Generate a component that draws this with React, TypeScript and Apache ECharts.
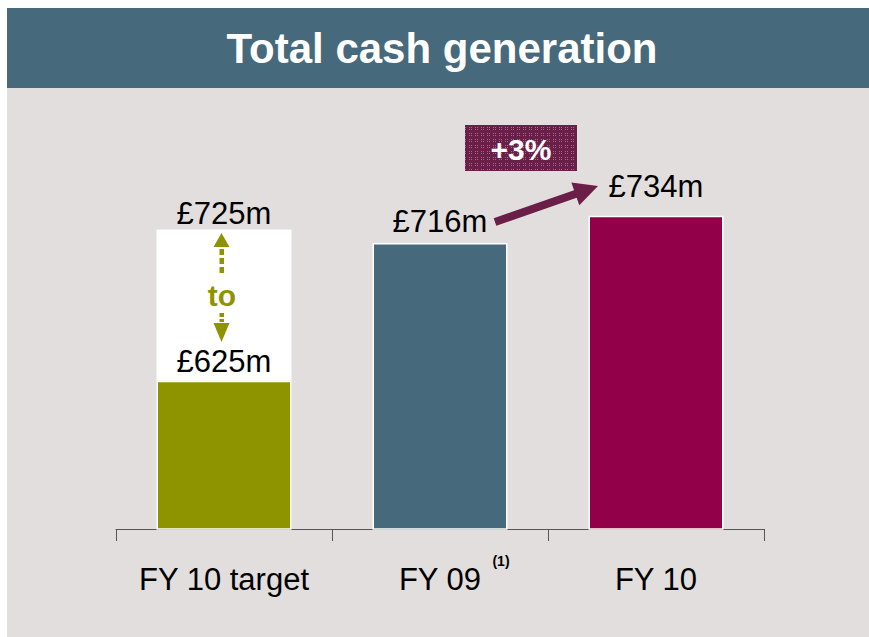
import React, { useEffect, useRef } from 'react';
import * as echarts from 'echarts';

const categories = ['FY 10 target', 'FY 09', 'FY 10'];
const values = [625, 716, 734];
const targetUpper = [725, null, null];
const barColors = ['#8E9400', '#46697C', '#910048'];
const labelDistances = [4, 6, 14];
const changeLabel = '+3%';
const title = 'Total cash generation';

const FONT = '"Liberation Sans", Arial, Helvetica, sans-serif';

function arrowPoints(x1: number, y1: number, x2: number, y2: number, sh: number, hh: number, hl: number) {
  const dx = x2 - x1, dy = y2 - y1;
  const len = Math.sqrt(dx * dx + dy * dy);
  const ux = dx / len, uy = dy / len;
  const nx = -uy, ny = ux;
  const bx = x2 - ux * hl, by = y2 - uy * hl;
  return [
    [x1 + nx * sh, y1 + ny * sh],
    [bx + nx * sh, by + ny * sh],
    [bx + nx * hh, by + ny * hh],
    [x2, y2],
    [bx - nx * hh, by - ny * hh],
    [bx - nx * sh, by - ny * sh],
    [x1 - nx * sh, y1 - ny * sh],
  ];
}

function makePattern(): string | null {
  try {
    const c = document.createElement('canvas');
    c.width = 6; c.height = 6;
    const ctx = c.getContext('2d');
    if (!ctx) return null;
    ctx.fillStyle = '#6B1E48';
    ctx.fillRect(0, 0, 6, 6);
    ctx.fillStyle = '#9C6B86';
    ctx.fillRect(1, 1, 1, 1);
    ctx.fillRect(3, 1, 1, 1);
    ctx.fillRect(1, 3, 1, 1);
    ctx.fillRect(3, 3, 1, 1);
    return c.toDataURL();
  } catch (e) {
    return null;
  }
}

export default function App() {
  const ref = useRef<HTMLDivElement>(null);
  useEffect(() => {
    if (!ref.current) return;
    const chart = echarts.init(ref.current, null, { renderer: 'svg' });
    const pat = makePattern();
    const boxFill: any = pat ? { image: pat, repeat: 'repeat', imageWidth: 6, imageHeight: 6 } : '#72264F';

    const baseData = values.map((v, i) => ({
      value: v,
      itemStyle: { color: barColors[i] },
      label: { distance: labelDistances[i] },
    }));
    const rangeData = targetUpper.map((u, i) => (u == null ? '-' : u - values[i]));

    const labelStyle = {
      show: true,
      position: 'top',
      fontSize: 31,
      fontFamily: FONT,
      color: '#000',
    };

    const olive = '#8E9400';

    chart.setOption({
      animation: false,
      backgroundColor: '#FFFFFF',
      grid: { left: 116, right: 105, top: 116, bottom: 108 },
      xAxis: {
        type: 'category',
        data: categories,
        axisLine: { lineStyle: { color: '#555555', width: 1 } },
        axisTick: { show: true, length: 12, lineStyle: { color: '#555555', width: 1 } },
        axisLabel: { interval: 0, fontSize: 31, fontFamily: FONT, color: '#000', margin: 35 },
      },
      yAxis: {
        type: 'value',
        min: 527,
        max: 800,
        show: false,
        splitLine: { show: false },
      },
      graphic: [
        { type: 'rect', z: -10, shape: { x: 7, y: 8, width: 862, height: 80 }, style: { fill: '#46697C' } },
        { type: 'rect', z: -10, shape: { x: 7, y: 88, width: 862, height: 549 }, style: { fill: '#E1DEDD' } },
        {
          type: 'text', x: 442, y: 48,
          style: { text: title, fill: '#FFFFFF', font: `bold 42px ${FONT}`, align: 'center', verticalAlign: 'middle' },
        },
        { type: 'rect', shape: { x: 465, y: 125, width: 112, height: 46 }, style: { fill: boxFill } },
        {
          type: 'text', x: 521, y: 149,
          style: { text: changeLabel, fill: '#FFFFFF', font: `bold 30px ${FONT}`, align: 'center', verticalAlign: 'middle' },
        },
        {
          type: 'polygon',
          shape: { points: arrowPoints(495, 222, 598, 186, 4, 12, 24) },
          style: { fill: '#6B1E48' },
        },
        {
          type: 'text', x: 501, y: 561,
          style: { text: '(1)', fill: '#000', font: `bold 14px ${FONT}`, align: 'center', verticalAlign: 'middle' },
        },
        {
          type: 'group', z: 20,
          children: [
            {
              type: 'text', x: 222, y: 295, z: 20,
              style: { text: 'to', fill: olive, font: `bold 30px ${FONT}`, align: 'center', verticalAlign: 'middle' },
            },
            { type: 'polygon', z: 20, shape: { points: [[221.5, 233], [213.5, 247], [229.5, 247]] }, style: { fill: olive } },
            { type: 'rect', z: 20, shape: { x: 219.5, y: 249, width: 4.5, height: 6 }, style: { fill: olive } },
            { type: 'rect', z: 20, shape: { x: 219.5, y: 258, width: 4.5, height: 6 }, style: { fill: olive } },
            { type: 'rect', z: 20, shape: { x: 219.5, y: 267, width: 4.5, height: 6 }, style: { fill: olive } },
            { type: 'rect', z: 20, shape: { x: 219.5, y: 313, width: 4.5, height: 4 }, style: { fill: olive } },
            { type: 'rect', z: 20, shape: { x: 219.5, y: 319, width: 4.5, height: 3 }, style: { fill: olive } },
            { type: 'polygon', z: 20, shape: { points: [[213.5, 323], [229.5, 323], [221.5, 342]] }, style: { fill: olive } },
          ],
        },
      ],
      series: [
        {
          name: 'Value',
          type: 'bar',
          stack: 'total',
          z: 3,
          barWidth: 135,
          data: baseData,
          itemStyle: { borderColor: '#FFFFFF', borderWidth: 1.5 },
          label: { ...labelStyle, formatter: (p: any) => `£${p.value}m` },
        },
        {
          name: 'Target range',
          type: 'bar',
          stack: 'total',
          z: 1,
          barWidth: 135,
          data: rangeData,
          itemStyle: { color: '#FFFFFF', borderColor: '#FFFFFF', borderWidth: 1.5 },
          label: {
            ...labelStyle,
            distance: 0,
            formatter: (p: any) => `£${targetUpper[p.dataIndex]}m`,
          },
        },
      ],
    });
    return () => chart.dispose();
  }, []);
  return (
    <div
      ref={ref}
      style={{ position: 'fixed', left: 0, top: 0, width: 869, height: 637, background: '#FFFFFF' }}
    />
  );
}
